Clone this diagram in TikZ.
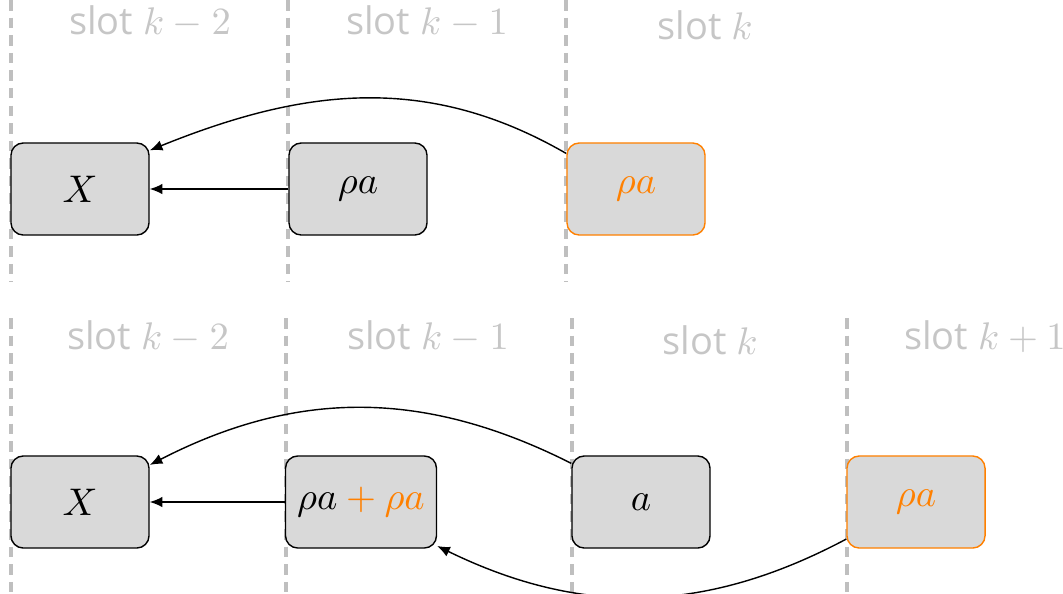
\documentclass[tikz,border=0pt]{standalone}
\usepackage{amsmath}
\usepackage{fontspec}
\setmainfont{Open Sans}
\usepackage{tikz}
\usetikzlibrary{arrows.meta}

\begin{document}
\begin{tikzpicture}[x=0.01cm, y=-0.01cm, font=\fontsize{10.8}{13}\selectfont,
        >={Latex[length=3.6pt, width=3pt]},
        slotline/.style={gray!50, line width=1.2pt, dash pattern=on 3pt off 2pt},
        slotlabel/.style={text=gray!45},
        cell/.style={draw=black, fill=gray!30, rounded corners=3.5pt, minimum width=1.38cm, minimum height=0.92cm},
        fresh/.style={draw=orange, text=orange}]
        \useasboundingbox (0, 0) rectangle (1063, 593);

        \draw[slotline] (11, 0) -- (11, 282);
        \draw[slotline] (288, 0) -- (288, 282);
        \draw[slotline] (566, 0) -- (566, 282);
        \node[slotlabel] (t1) at (150, 22) {slot $k-2$};
        \node[slotlabel] (t2) at (427, 22) {slot $k-1$};
        \node[slotlabel] (t3) at (705, 25) {slot $k$};

        \node[cell] (tX) at (80, 189) {$X$};
        \node[cell] (tA) at (358, 189) {$\rho a$};
        \node[cell, fresh] (tN) at (636, 189) {$\rho a$};
        \draw[->] (tA.west) -- (tX.east);
        \draw[->] (tN.153) to[out=150, in=22] (tX.29);

        \draw[slotline] (11, 318) -- (11, 593);
        \draw[slotline] (286, 318) -- (286, 593);
        \draw[slotline] (572, 318) -- (572, 593);
        \draw[slotline] (847, 318) -- (847, 593);
        \node[slotlabel] (b1) at (148, 337) {slot $k-2$};
        \node[slotlabel] (b2) at (428, 337) {slot $k-1$};
        \node[slotlabel] (b3) at (710, 340) {slot $k$};
        \node[slotlabel] (b4) at (985, 337) {slot $k+1$};

        \node[cell] (bX) at (80, 502) {$X$};
        \node[cell] (bS) at (361, 502) {$\rho a \textcolor{orange}{{}+ \rho a}$};
        \node[cell] (bA) at (641, 502) {$a$};
        \node[cell, fresh] (bN) at (916, 502) {$\rho a$};
        \draw[->] (bS.west) -- (bX.east);
        \draw[->] (bA.151) to[bend right=27] (bX.28);
        \draw[->] (bN.208) to[bend left=27] (bS.330);

    \end{tikzpicture}
\end{document}
